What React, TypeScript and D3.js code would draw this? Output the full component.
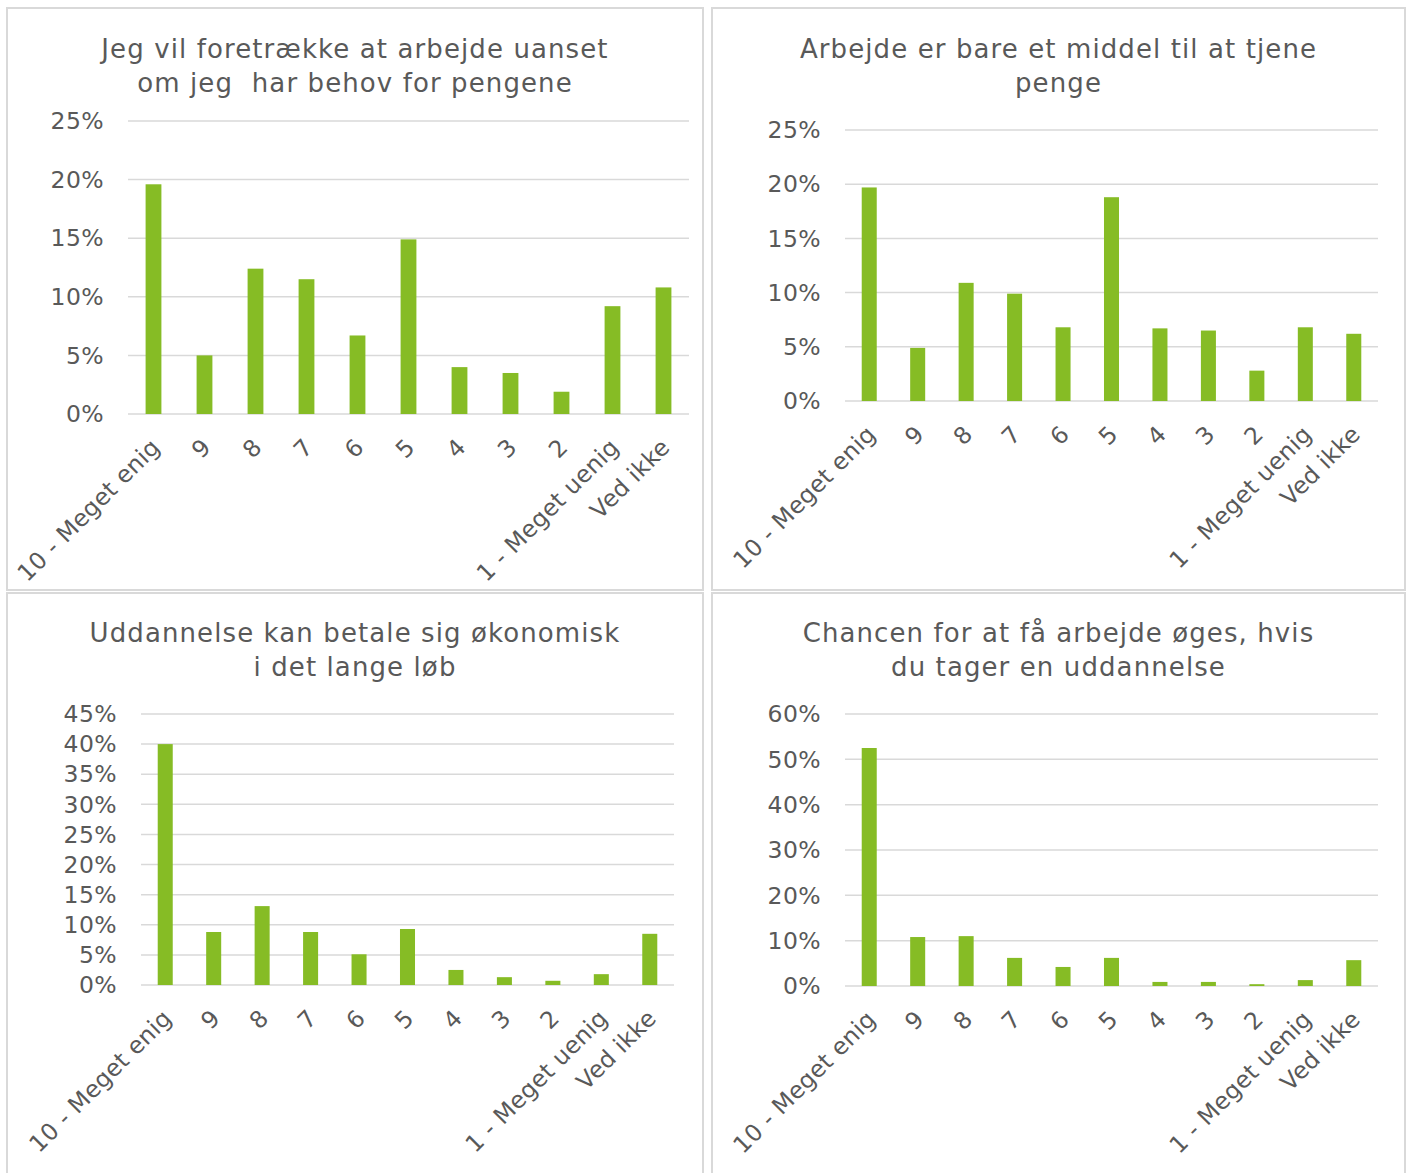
import React from "react";
import * as d3 from "d3";

const categories = ["10 - Meget enig", "9", "8", "7", "6", "5", "4", "3", "2", "1 - Meget uenig", "Ved ikke"];

const titles = [
  ["Jeg vil foretrække at arbejde uanset", "om jeg  har behov for pengene"],
  ["Arbejde er bare et middel til at tjene", "penge"],
  ["Uddannelse kan betale sig økonomisk", "i det lange løb"],
  ["Chancen for at få arbejde øges, hvis", "du tager en uddannelse"],
];

const valuesForetraekke = [19.6, 5.0, 12.4, 11.5, 6.7, 14.9, 4.0, 3.5, 1.9, 9.2, 10.8];
const valuesMiddel = [19.7, 4.9, 10.9, 9.9, 6.8, 18.8, 6.7, 6.5, 2.8, 6.8, 6.2];
const valuesUddannelse = [40.0, 8.8, 13.1, 8.8, 5.1, 9.3, 2.5, 1.3, 0.7, 1.8, 8.5];
const valuesChancen = [52.5, 10.8, 11.0, 6.2, 4.2, 6.2, 0.9, 0.9, 0.4, 1.3, 5.7];

const axisMax = [25, 25, 45, 60];
const axisStep = [5, 5, 5, 10];

const seriesList = [valuesForetraekke, valuesMiddel, valuesUddannelse, valuesChancen];

// layout
const panels = [
  { bx: 7, by: 8, bw: 696, bh: 582, px0: 128, px1: 689, py0: 414, py1: 121, titleY: 58 },
  { bx: 712, by: 8, bw: 693, bh: 582, px0: 845, px1: 1378, py0: 401, py1: 130, titleY: 58 },
  { bx: 7, by: 593, bw: 696, bh: 590, px0: 141, px1: 674, py0: 985, py1: 714, titleY: 642 },
  { bx: 712, by: 593, bw: 693, bh: 590, px0: 845, px1: 1378, py0: 986, py1: 714, titleY: 642 },
];

const GREEN = "#86bc25";
const TEXT = "#595959";
const GRID = "#d9d9d9";
const FONT = "DejaVu Sans, Verdana, sans-serif";

function Panel({ i }: { i: number }) {
  const p = panels[i];
  const vals = seriesList[i];
  const x = d3.scaleBand<string>().domain(categories).range([p.px0, p.px1]).paddingInner(0.69).paddingOuter(0.345);
  const y = d3.scaleLinear().domain([0, axisMax[i]]).range([p.py0, p.py1]);
  const ticks = d3.range(0, axisMax[i] + 0.001, axisStep[i]);
  const cx = p.bx + p.bw / 2;
  return (
    <g>
      <rect x={p.bx} y={p.by} width={p.bw} height={p.bh} fill="#fff" stroke={GRID} strokeWidth={2} />
      {titles[i].map((t, k) => (
        <text key={k} x={cx} y={p.titleY + k * 34} textAnchor="middle" fontSize={26} letterSpacing={1.1} fill={TEXT} fontFamily={FONT} style={{ whiteSpace: "pre" }}>
          {t}
        </text>
      ))}
      {ticks.map((t) => (
        <g key={t}>
          <line x1={p.px0} x2={p.px1} y1={y(t)} y2={y(t)} stroke={GRID} strokeWidth={1.5} />
          <text x={p.px0 - 24} y={y(t)} dy="0.35em" textAnchor="end" fontSize={23.5} letterSpacing={0.4} fill={TEXT} fontFamily={FONT}>
            {t}%
          </text>
        </g>
      ))}
      {vals.map((v, k) => (
        <rect key={k} x={x(categories[k])} y={y(v)} width={x.bandwidth()} height={y(0) - y(v)} fill={GREEN} />
      ))}
      {categories.map((c) => {
        const tx = (x(c) as number) + x.bandwidth() / 2 + 2;
        const ty = p.py0 + 29;
        return (
          <text key={c} x={tx} y={ty} transform={`rotate(-45 ${tx} ${ty})`} textAnchor="end" dy="0.35em" fontSize={23.5} letterSpacing={0.3} fill={TEXT} fontFamily={FONT}>
            {c}
          </text>
        );
      })}
    </g>
  );
}

export default function App() {
  return (
    <svg width={1407} height={1173} style={{ position: "absolute", left: 0, top: 0, background: "#fff" }}>
      <rect x={0} y={0} width={1407} height={1173} fill="#fff" />
      {panels.map((_, i) => (
        <Panel key={i} i={i} />
      ))}
    </svg>
  );
}
